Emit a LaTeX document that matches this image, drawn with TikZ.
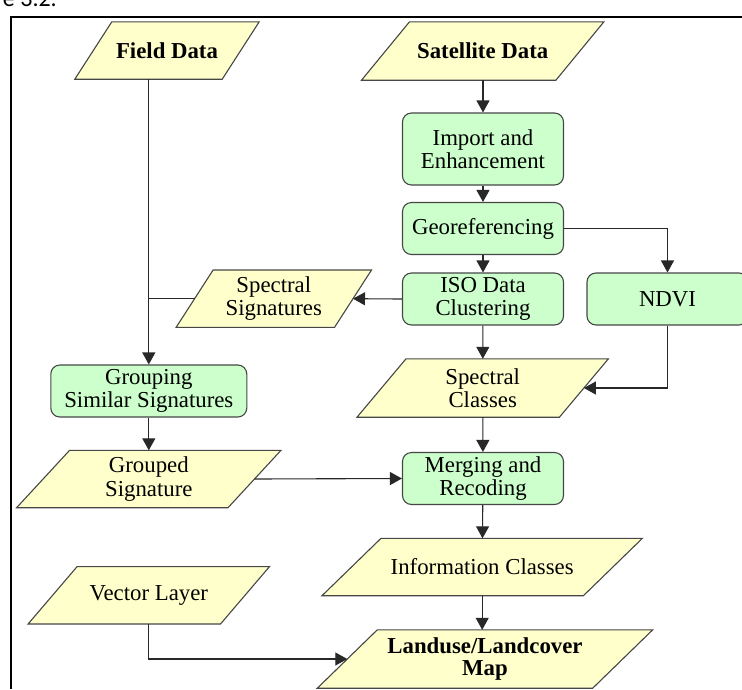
\documentclass[tikz,border=0pt]{standalone}
\usepackage{fontspec}
\setmainfont{Liberation Serif}
\newfontfamily\capfont{Carlito}
\usetikzlibrary{arrows.meta,backgrounds}

\definecolor{datafill}{RGB}{255,255,204}
\definecolor{procfill}{RGB}{204,255,204}
\definecolor{edgegray}{RGB}{70,70,70}
\definecolor{linegray}{RGB}{40,40,40}

% slanted data box drawn behind a named node: name, slant
\newcommand{\dataslant}[2]{%
    \begin{scope}[on background layer]
        \filldraw[datashape] ([xshift={0.5*#2pt}]#1.north west) -- ([xshift={0.5*#2pt}]#1.north east)
            -- ([xshift={-0.5*#2pt}]#1.south east) -- ([xshift={-0.5*#2pt}]#1.south west) -- cycle;
    \end{scope}}

\begin{document}
\begin{tikzpicture}[x=1pt,y=-1pt,
        font=\fontsize{22.8}{23.5}\selectfont,
        datanode/.style={inner sep=0pt, align=center, minimum height=57pt},
        datashape/.style={fill=datafill, draw=edgegray, line width=1.1pt},
        procnode/.style={draw=edgegray, fill=procfill, rounded corners=9pt, line width=1.1pt,
            inner sep=0pt, align=center, minimum width=161pt, minimum height=52pt},
        flow/.style={draw=linegray, line width=1.1pt, -{Triangle[width=13pt,length=12pt]}},
        link/.style={draw=linegray, line width=1.1pt}]
        \useasboundingbox (0,0) rectangle (742,689);

        % frame and cut caption
        \draw[line width=1.5pt] (11,689) -- (11,17) -- (742,17);
        \node[font=\capfont\fontsize{24}{24}\selectfont, anchor=base east, inner sep=0pt] (cap) at (57,6.5) {e 3.2.};

        % inputs
        \node[datanode, minimum width=147pt] (fld) at (167,50.5) {\textbf{Field Data}};
        \dataslant{fld}{37}
        \node[datanode, minimum width=194pt, minimum height=58pt] (sat) at (482.7,51) {\textbf{Satellite Data}};
        \dataslant{sat}{48}

        % main column
        \node[procnode, minimum height=72pt] (imp) at (483,149) {Import and\\Enhancement};
        \node[procnode] (geo) at (483,228.5) {Georeferencing};
        \node[procnode] (iso) at (483,299) {ISO Data\\Clustering};
        \node[procnode] (ndvi) at (667.5,299) {NDVI};
        \node[datanode, minimum width=202pt, minimum height=58pt] (spc) at (482.7,388) {Spectral\\Classes};
        \dataslant{spc}{49}
        \node[procnode] (mrg) at (483,478.5) {Merging and\\Recoding};
        \node[datanode, minimum width=261pt] (inf) at (482.2,567) {Information Classes};
        \dataslant{inf}{59}
        \node[datanode, minimum width=275pt, minimum height=58pt] (lnd) at (485,659) {\textbf{Landuse/Landcover}\\[-1pt]\textbf{Map}};
        \dataslant{lnd}{60}

        % left column
        \node[datanode, minimum width=158pt] (sps) at (273.8,298.7) {Spectral\\Signatures};
        \dataslant{sps}{37}
        \node[procnode, minimum width=196pt] (grp) at (148.8,391) {Grouping\\Similar Signatures};
        \node[datanode, minimum width=211pt] (gsg) at (148.8,479) {Grouped\\Signature};
        \dataslant{gsg}{53}
        \node[datanode, minimum width=192pt] (vec) at (148.8,595.3) {Vector Layer};
        \dataslant{vec}{49}

        % connectors
        \draw[flow] (grp.north |- fld.south) -- (grp.north);
        \draw[link] (sps.west) -- (grp.north |- sps.west);
        \draw[flow] (imp.north |- sat.south) -- (imp.north);
        \draw[flow] (imp) -- (geo);
        \draw[flow] (geo.east) -| (ndvi.north);
        \draw[flow] (geo) -- (iso);
        \draw[flow] (iso.west) -- (sps.east);
        \draw[flow] (iso) -- (spc);
        \draw[flow] (ndvi.south) |- (spc.east);
        \draw[flow] (grp) -- (gsg);
        \draw[flow] (spc) -- (mrg);
        \draw[flow] (gsg.east) -- (mrg.west);
        \draw[flow] (mrg) -- (inf);
        \draw[flow] (inf.south) -- (inf.south |- lnd.north);
        \draw[flow] (vec.south) |- (lnd.west);
    \end{tikzpicture}
\end{document}
